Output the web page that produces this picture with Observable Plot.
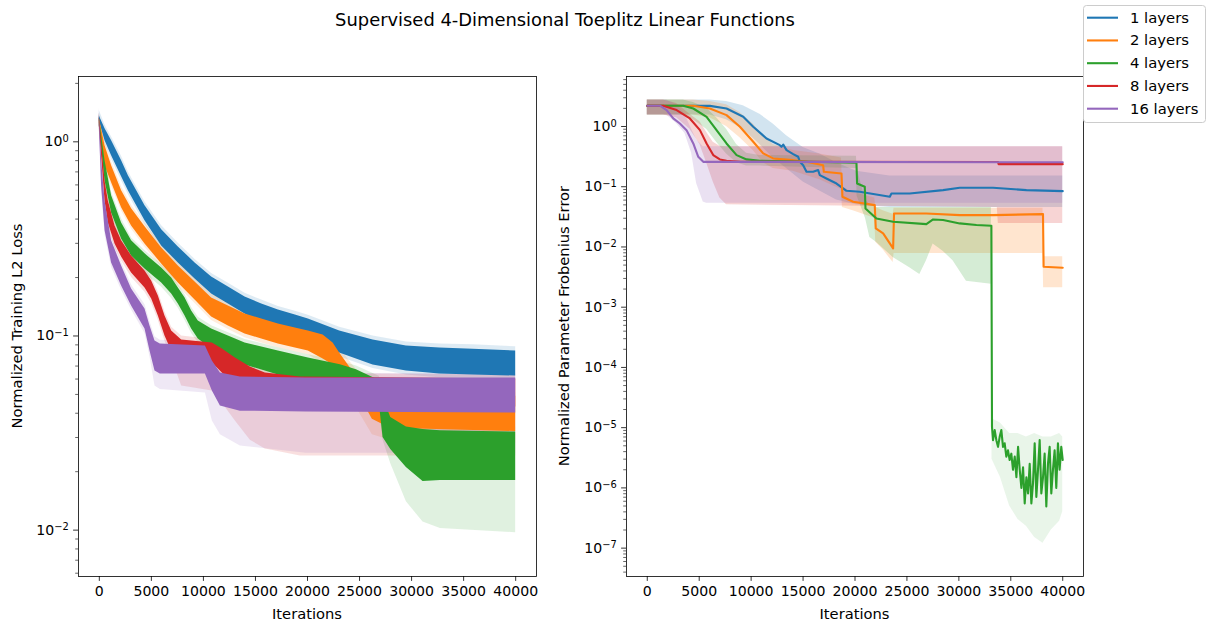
<!DOCTYPE html>
<html><head><meta charset="utf-8">
<script src="https://cdn.jsdelivr.net/npm/d3@7"></script>
<script src="https://cdn.jsdelivr.net/npm/@observablehq/plot@0.6"></script>
<style>
body{margin:0;background:#fff;}
#fig{position:relative;width:1210px;height:623px;overflow:hidden;background:#fff;}
</style></head><body><div id="fig"></div>
<script>
const layers = ["1 layers","2 layers","4 layers","8 layers","16 layers"];
const palette = ["#1f77b4","#ff7f0e","#2ca02c","#d62728","#9467bd"];
const xTicks = [0,5000,10000,15000,20000,25000,30000,35000,40000];
const lossTicks = [0.01, 0.1, 1];
const errTicks = [1e-7,1e-6,1e-5,1e-4,1e-3,1e-2,1e-1,1];
const xDomain = [-2000, 42000];
const lossDomain = [0.00577, 2.17];
const errDomain = [3.38e-8, 6.76];

// Left panel: [iteration, stdHigh, bandHigh, bandLow, stdLow]
const loss1 = [[0,1.45,1.36,1.28,1.22],[550,1.22,1.167,1.012,0.97],[1180,1.06,1.012,0.847,0.81],[2140,0.84,0.798,0.66,0.63],[2790,0.70,0.668,0.559,0.535],[4390,0.49,0.468,0.392,0.375],[5990,0.37,0.352,0.291,0.278],[7590,0.30,0.2875,0.2377,0.227],[9200,0.248,0.2377,0.1967,0.188],[10790,0.21,0.2015,0.1646,0.157],[12400,0.187,0.179,0.1462,0.14],[14000,0.166,0.159,0.1298,0.124],[15600,0.153,0.1462,0.1167,0.111],[17200,0.142,0.1362,0.11,0.105],[18830,0.134,0.1283,0.1036,0.099],[20080,0.128,0.1224,0.0976,0.093],[23090,0.111,0.1061,0.0817,0.078],[26300,0.1,0.0954,0.0709,0.068],[29500,0.093,0.0888,0.066,0.063],[32700,0.091,0.0867,0.0637,0.061],[35910,0.09,0.0854,0.063,0.06],[40000,0.088,0.0837,0.0622,0.059]];
const loss2 = [[0,1.4,1.33,1.253,1.2],[550,1.0,0.954,0.752,0.72],[1180,0.79,0.752,0.615,0.59],[2140,0.585,0.559,0.457,0.44],[3100,0.47,0.4515,0.369,0.355],[4390,0.38,0.365,0.298,0.286],[5990,0.296,0.284,0.235,0.226],[7590,0.24,0.2296,0.1876,0.18],[9200,0.198,0.1898,0.1533,0.147],[10790,0.164,0.157,0.1253,0.12],[12400,0.149,0.1428,0.1126,0.108],[14000,0.135,0.1298,0.1024,0.098],[15600,0.128,0.1224,0.0965,0.092],[17200,0.12,0.1153,0.091,0.087],[18830,0.115,0.11,0.0867,0.083],[20080,0.111,0.1061,0.0837,0.08],[21500,0.106,0.1012,0.0761,0.072],[22460,0.097,0.092,0.0709,0.066],[23090,0.087,0.0817,0.066,0.06],[24050,0.074,0.0692,0.0579,0.05],[25010,0.064,0.06,0.049,0.04],[26230,0.056,0.0533,0.0373,0.031],[27960,0.053,0.0508,0.0335,0.029],[40000,0.051,0.049,0.0322,0.028]];
const loss4 = [[0,1.4,1.33,1.21,1.15],[550,0.84,0.798,0.629,0.6],[1180,0.55,0.527,0.4305,0.41],[2140,0.4,0.3824,0.316,0.3],[3100,0.32,0.309,0.258,0.245],[4390,0.275,0.2648,0.2215,0.21],[5990,0.233,0.2241,0.1876,0.178],[6950,0.207,0.199,0.1646,0.156],[7590,0.184,0.1768,0.1462,0.139],[8240,0.163,0.157,0.1268,0.12],[8870,0.14,0.1346,0.1087,0.103],[9510,0.125,0.1195,0.0965,0.092],[10790,0.113,0.1087,0.0857,0.081],[12400,0.104,0.1,0.078,0.074],[14000,0.096,0.092,0.0709,0.067],[17200,0.087,0.0837,0.063,0.06],[20080,0.08,0.0771,0.0573,0.054],[23160,0.074,0.071,0.0533,0.05],[24700,0.07,0.067,0.05,0.047],[26900,0.062,0.059,0.045,0.042],[27260,0.052,0.048,0.03,0.029],[28000,0.042,0.038,0.026,0.022],[29500,0.036,0.034,0.021,0.014],[31100,0.035,0.033,0.0178,0.011],[32770,0.034,0.0325,0.018,0.0102],[40000,0.034,0.032,0.018,0.0097]];
const loss8 = [[0,1.4,1.345,1.21,1.15],[550,0.66,0.629,0.496,0.47],[865,0.52,0.496,0.3824,0.365],[1510,0.385,0.369,0.298,0.284],[2140,0.32,0.309,0.2554,0.243],[3100,0.27,0.258,0.2113,0.2],[4390,0.225,0.2163,0.1768,0.168],[5030,0.2,0.192,0.155,0.147],[5670,0.168,0.1607,0.1268,0.12],[6310,0.133,0.1268,0.1,0.094],[6950,0.111,0.1061,0.0837,0.077],[7910,0.1,0.0954,0.0743,0.0553],[10860,0.096,0.092,0.0726,0.052],[11820,0.09,0.0857,0.0645,0.045],[13070,0.081,0.0771,0.0553,0.0365],[14510,0.072,0.0692,0.049,0.029],[15950,0.067,0.0645,0.0462,0.0262],[19310,0.064,0.0615,0.0441,0.0241],[40000,0.063,0.06,0.0431,0.0241]];
const loss16 = [[0,1.5,1.41,1.21,1.15],[220,0.84,0.798,0.593,0.56],[550,0.52,0.496,0.348,0.33],[1180,0.325,0.309,0.2377,0.225],[2140,0.24,0.2296,0.181,0.172],[3100,0.183,0.1747,0.1428,0.136],[4390,0.145,0.1378,0.1087,0.103],[4870,0.118,0.1126,0.0837,0.078],[5350,0.099,0.0942,0.066,0.0553],[5860,0.095,0.091,0.0637,0.053],[10190,0.093,0.0888,0.0637,0.0508],[10860,0.078,0.0743,0.052,0.0365],[11630,0.068,0.0645,0.0436,0.031],[13550,0.064,0.0615,0.041,0.0271],[19890,0.064,0.0607,0.0406,0.0249],[40000,0.064,0.0607,0.0401,0.0249]];

// Right panel mean lines: [iteration, error]
const err1 = [[0,2.21],[6030,2.2],[7630,1.99],[9240,1.45],[10200,0.99],[11480,0.633],[12760,0.49],[12920,0.46],[13090,0.5],[13410,0.405],[14050,0.348],[14530,0.314],[14690,0.26],[15010,0.228],[15330,0.177],[15970,0.177],[16450,0.189],[16610,0.156],[17250,0.137],[18220,0.113],[19180,0.0856],[20460,0.0824],[23350,0.068],[23510,0.0773],[25270,0.0773],[28480,0.0878],[30080,0.096],[33290,0.096],[36500,0.0878],[40000,0.0845]];
const err2 = [[0,2.21],[4430,2.21],[6030,1.99],[7630,1.545],[8920,0.989],[10200,0.557],[11160,0.357],[12120,0.295],[14050,0.276],[15330,0.259],[16610,0.234],[16930,0.228],[17000,0.177],[18700,0.166],[18790,0.068],[19820,0.0562],[21900,0.0495],[22000,0.0203],[22710,0.0168],[23670,0.00945],[23760,0.036],[26870,0.036],[30080,0.0338],[33290,0.0338],[38100,0.0351],[38160,0.00469],[40000,0.00451]];
const err4 = [[0,2.21],[3460,2.21],[4430,1.99],[5710,1.449],[6670,0.87],[7630,0.523],[8600,0.335],[9560,0.284],[10840,0.27],[20140,0.25],[20200,0.113],[20940,0.0998],[21010,0.0436],[22060,0.0297],[23670,0.0262],[26870,0.0239],[27520,0.0286],[28480,0.0281],[30080,0.0246],[31690,0.0231],[33130,0.0225],[33190,1.03e-5],[33290,6.2e-6],[33450,9.1e-6],[33610,6.2e-6],[33770,4.8e-6],[33930,7.05e-6],[34090,9.1e-6],[34250,4.8e-6],[34410,5.5e-6],[34570,3.3e-6],[34730,4.2e-6],[34890,2.9e-6],[35050,3.7e-6],[35210,2.0e-6],[35380,3.3e-6],[35540,1.5e-6],[35700,4.8e-6],[35860,2.0e-6],[36020,1.0e-6],[36180,2.2e-6],[36340,5.5e-7],[36500,1.5e-6],[36660,8.1e-7],[36820,2.5e-6],[36980,5.5e-7],[37140,1.2e-6],[37300,5.5e-6],[37460,7.1e-7],[37620,2.0e-6],[37780,6.2e-6],[37940,8.1e-7],[38100,1.5e-6],[38260,3.7e-6],[38420,4.9e-7],[38580,2.5e-6],[38740,4.8e-6],[38900,8.1e-7],[39060,2.0e-6],[39220,4.2e-6],[39380,1.0e-6],[39540,5.5e-6],[39700,2.0e-6],[39860,4.8e-6],[40000,2.9e-6]];
const err8 = [[0,2.21],[1540,2.21],[2820,1.87],[4100,1.36],[5070,0.87],[5710,0.523],[6350,0.335],[6990,0.284],[7630,0.27],[9000,0.26],[33770,0.258],[33830,0.237],[40000,0.237]];
const err16 = [[0,2.21],[1220,2.21],[1860,1.87],[2500,1.36],[3140,1.12],[3780,0.87],[4430,0.523],[4910,0.314],[5390,0.259],[40000,0.255]];

// Right panel spread bands: [iteration, low, high]
const errSd1 = [[0,1.55,2.74],[6030,1.55,2.74],[7630,1.3,2.6],[9240,0.9,2.2],[10840,0.5,1.6],[12120,0.3,1.1],[13410,0.2,0.7],[15010,0.12,0.45],[16610,0.085,0.35],[18220,0.06,0.25],[20140,0.05,0.18],[23350,0.045,0.15],[40000,0.045,0.15]];
const errSd2 = [[0,1.55,2.74],[4430,1.55,2.74],[6030,1.4,2.6],[7630,1.0,2.3],[8920,0.65,1.7],[10200,0.4,1.1],[11160,0.25,0.7],[12120,0.2,0.5],[14050,0.18,0.4],[16610,0.13,0.35],[18700,0.09,0.3],[18790,0.045,0.1],[19820,0.04,0.08],[21900,0.03,0.065],[22000,0.012,0.045],[22710,0.009,0.04],[23670,0.0055,0.035],[23760,0.0078,0.044],[38100,0.0078,0.044],[38160,0.0021,0.0069],[40000,0.0021,0.0069]];
const errSd4 = [[0,1.55,2.74],[3460,1.55,2.74],[4430,1.3,2.5],[5710,0.9,2.0],[6670,0.55,1.4],[7630,0.35,0.9],[8600,0.25,0.5],[9560,0.22,0.36],[10840,0.22,0.33],[20140,0.2,0.32],[20200,0.07,0.2],[21010,0.03,0.06],[21430,0.0144,0.05],[22060,0.012,0.045],[23670,0.0067,0.045],[25270,0.0045,0.045],[26240,0.0035,0.045],[26880,0.0059,0.045],[27520,0.0112,0.045],[28480,0.0085,0.045],[29440,0.0059,0.045],[30730,0.0027,0.045],[33130,0.0024,0.045]];
const errSd4Tail = [[33190,3e-6,1.4e-5],[34000,1.5e-6,1.2e-5],[34890,5e-7,8e-6],[35700,3e-7,8e-6],[36500,2.3e-7,7e-6],[37300,1.5e-7,8e-6],[38100,1.2e-7,7e-6],[38900,2e-7,7e-6],[39700,2.8e-7,8e-6],[40000,4e-7,7e-6]];
const errSd8 = [[0,1.55,2.74],[1540,1.55,2.74],[2820,1.4,2.4],[4100,0.9,1.6],[5070,0.5,1.2],[5710,0.25,0.8],[6350,0.12,0.55],[6990,0.065,0.47],[7630,0.05,0.46],[33700,0.045,0.46],[33800,0.0246,0.46],[40000,0.0246,0.46]];
const errSd16 = [[0,1.55,2.74],[1860,1.55,2.74],[2820,1.12,2.3],[3620,0.77,1.6],[4270,0.36,0.9],[4750,0.113,0.6],[5390,0.056,0.46],[5710,0.053,0.46],[40000,0.053,0.46]];

const FONT = '"DejaVu Sans", sans-serif';
const lossRows = [loss1,loss2,loss4,loss8,loss16].flatMap((a,i)=>a.map(([it,sdHi,hi,lo,sdLo])=>({layer:layers[i],it,sdHi,hi,lo,sdLo})));
const errRows = [err1,err2,err4,err8,err16].flatMap((a,i)=>a.map(([it,v])=>({layer:layers[i],it,v})));
const errSdRows = [errSd1,errSd2,errSd4,errSd8,errSd16].flatMap((a,i)=>a.map(([it,lo,hi])=>({layer:layers[i],it,lo,hi})));
const errTailRows = errSd4Tail.map(([it,lo,hi])=>({layer:layers[2],it,lo,hi}));

function minorTicks([lo,hi]){
  const out=[];
  for(let e=Math.floor(Math.log10(lo));e<=Math.ceil(Math.log10(hi));e++)
    for(let k=2;k<=9;k++){const v=k*Math.pow(10,e); if(v>=lo&&v<=hi) out.push(v);}
  return out;
}
const expFmt = d => "10^" + Math.round(Math.log10(d));
const axes = (yTicks, yDomain) => [
  Plot.frame({strokeWidth:0.8}),
  Plot.axisX(xTicks,{tickSize:4.9,tickPadding:4.9,tickFormat:d=>String(d),label:null,strokeWidth:0.8}),
  Plot.axisY(yTicks,{tickSize:4.9,tickPadding:4.9,tickFormat:expFmt,label:null,strokeWidth:0.8}),
  Plot.axisY(minorTicks(yDomain),{tickSize:2.8,tickPadding:0,tickFormat:()=>"",label:null,strokeWidth:0.6})
];
const baseStyle = {fontFamily:FONT,fontSize:"14.1px",color:"#000",background:"none",overflow:"visible"};

const left = Plot.plot({
  width:560,height:623,marginLeft:78,marginRight:24,marginTop:76,marginBottom:47,
  style:baseStyle,
  x:{domain:xDomain},
  y:{type:"log",domain:lossDomain},
  color:{domain:layers,range:palette},
  marks:[
    Plot.areaY(lossRows,{x:"it",y1:"sdLo",y2:"sdHi",fill:"layer",fillOpacity:0.15}),
    Plot.areaY(lossRows,{x:"it",y1:"lo",y2:"hi",fill:"layer"}),
    ...axes(lossTicks, lossDomain)
  ]
});
const right = Plot.plot({
  width:560,height:623,marginLeft:86,marginRight:17,marginTop:76,marginBottom:47,
  style:baseStyle,
  x:{domain:xDomain},
  y:{type:"log",domain:errDomain},
  color:{domain:layers,range:palette},
  marks:[
    Plot.areaY(errSdRows,{x:"it",y1:"lo",y2:"hi",fill:"layer",fillOpacity:0.2}),
    Plot.areaY(errTailRows,{x:"it",y1:"lo",y2:"hi",fill:"layer",fillOpacity:0.1}),
    Plot.lineY(errRows,{x:"it",y:"v",stroke:"layer",strokeWidth:2.1}),
    ...axes(errTicks, errDomain)
  ]
});

function supify(svg){
  d3.select(svg).selectAll("text").each(function(){
    const t=this.textContent;
    if(!t || t.indexOf("^")<0) return;
    const [b,e]=t.split("^");
    const s=d3.select(this); s.text(null);
    s.append("tspan").text(b);
    s.append("tspan").attr("dy","-0.45em").attr("font-size","70%").text(e.replace("-","\u2212"));
  });
}
supify(left); supify(right);

const fig=document.getElementById("fig");
left.style.position="absolute"; left.style.left="0px"; left.style.top="0px";
right.style.position="absolute"; right.style.left="540px"; right.style.top="0px";
fig.appendChild(left); fig.appendChild(right);

// Overlay: title, axis labels, legend
const ov=d3.create("svg").attr("width",1210).attr("height",623)
  .style("position","absolute").style("left","0px").style("top","0px")
  .style("font-family",FONT).style("overflow","visible");
ov.append("text").attr("x",565).attr("y",25.5).attr("text-anchor","middle").attr("font-size","17.9px").attr("fill","#000")
  .text("Supervised 4-Dimensional Toeplitz Linear Functions");
ov.append("text").attr("x",307).attr("y",618.5).attr("text-anchor","middle").attr("font-size","14.7px").text("Iterations");
ov.append("text").attr("x",854.5).attr("y",618.5).attr("text-anchor","middle").attr("font-size","14.7px").text("Iterations");
ov.append("text").attr("transform","translate(22.3,326) rotate(-90)").attr("text-anchor","middle").attr("font-size","14.7px").text("Normalized Training L2 Loss");
ov.append("text").attr("transform","translate(569.3,326) rotate(-90)").attr("text-anchor","middle").attr("font-size","14.7px").text("Normalized Parameter Frobenius Error");
const lg=ov.append("g");
lg.append("rect").attr("x",1083.5).attr("y",5.5).attr("width",122).attr("height",117).attr("rx",3)
  .attr("fill","#fff").attr("fill-opacity",0.8).attr("stroke","#cccccc").attr("stroke-width",1);
layers.forEach((name,i)=>{
  const y=17.7+i*22.75;
  lg.append("line").attr("x1",1087).attr("x2",1118).attr("y1",y).attr("y2",y).attr("stroke",palette[i]).attr("stroke-width",2.1);
  lg.append("text").attr("x",1130).attr("y",y+5).attr("font-size","14.8px").text(name);
});
fig.appendChild(ov.node());
</script></body></html>
